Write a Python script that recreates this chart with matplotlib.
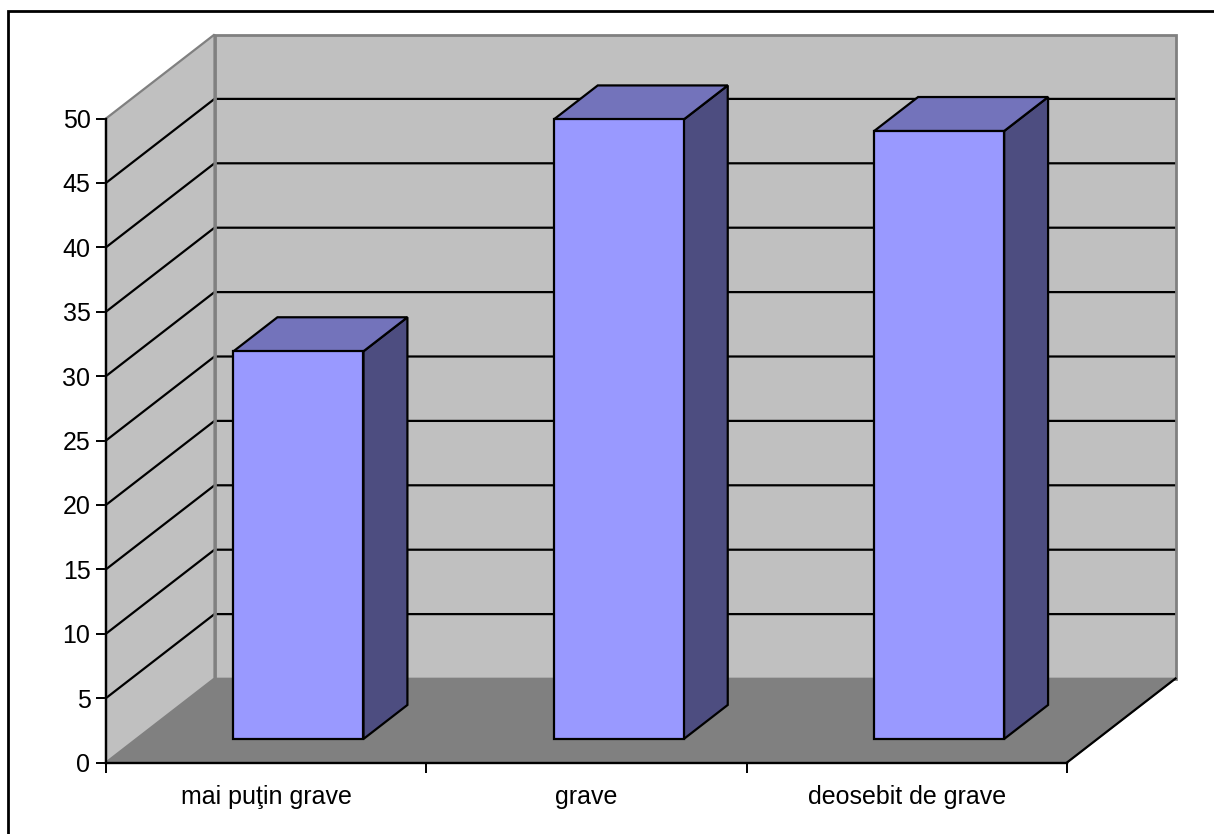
import matplotlib
matplotlib.use("Agg")
import matplotlib.pyplot as plt
from matplotlib.patches import Polygon, Rectangle

plt.rcParams["font.family"] = ["Liberation Sans", "DejaVu Sans"]

categories = ["mai puţin grave", "grave", "deosebit de grave"]
values = [30.1, 48.1, 47.2]
y_ticks = [0, 5, 10, 15, 20, 25, 30, 35, 40, 45, 50]

W, H = 1214, 834
fig = plt.figure(figsize=(W / 100, H / 100), dpi=100, facecolor="white")

# outer chart border, runs off the right and bottom edges
fig.add_artist(Rectangle((8 / W, -0.1), 1.2, (H - 11) / H + 0.1, transform=fig.transFigure,
                         fill=False, edgecolor="black", linewidth=2.0))

# axes sit on the front plane of the 3D box
ax = fig.add_axes([106 / W, (H - 762.5) / H, 961 / W, 644 / H])
ax.set_xlim(0, 3)
ax.set_ylim(0, 50)
ax.patch.set_visible(False)

# depth of the box in data units
depth_x = 108.5 / 961 * 3
depth_y = 84 / 644 * 50


def proj(x, y, d):
    return (x + d * depth_x, y + d * depth_y)


def face(points, color, edge, lw=1.6, z=1):
    ax.add_patch(Polygon([proj(*p) for p in points], closed=True, facecolor=color,
                         edgecolor=edge, linewidth=lw, zorder=z, clip_on=False,
                         joinstyle="miter"))


wall = "#C0C0C0"
floor = "#808080"
back = [(0, 0, 1), (3, 0, 1), (3, 50, 1), (0, 50, 1)]
side_wall = [(0, 0, 0), (0, 50, 0), (0, 50, 1), (0, 0, 1)]

# back wall, floor and side wall
face(back, wall, "none", 0, 1)
face([(0, 0, 0), (3, 0, 0), (3, 0, 1), (0, 0, 1)], floor, "#808080", 1.2, 2)
face(side_wall, wall, "none", 0, 2)

# gridlines wrap from the front edge across the side and back walls
for t in y_ticks[1:-1]:
    xs, ys = zip(proj(0, t, 0), proj(0, t, 1), proj(3, t, 1))
    ax.plot(xs, ys, color="black", lw=1.6, zorder=3, clip_on=False, solid_joinstyle="miter")

# gray wall outlines go over the gridlines
face(back, "none", "#808080", 2.0, 4)
face(side_wall, "none", "#808080", 1.6, 4)

# right edge of the floor
xs, ys = zip(proj(3, 0, 0), proj(3, 0, 1))
ax.plot(xs, ys, color="black", lw=1.6, zorder=4, clip_on=False)

# bars as front, top and side faces
bar_w = 130 / 961 * 3
d0, d1 = 0.28, 0.685
for i, v in enumerate(values):
    x0 = i + 0.5 + 0.006 - bar_w / 2
    x1 = x0 + bar_w
    face([(x1, 0, d0), (x1, 0, d1), (x1, v, d1), (x1, v, d0)], "#4D4D80", "black", 1.6, 5)
    face([(x0, v, d0), (x1, v, d0), (x1, v, d1), (x0, v, d1)], "#7373BB", "black", 1.6, 5)
    face([(x0, 0, d0), (x1, 0, d0), (x1, v, d0), (x0, v, d0)], "#9999FF", "black", 1.6, 6)

for side in ["top", "right"]:
    ax.spines[side].set_visible(False)
for side in ["left", "bottom"]:
    ax.spines[side].set_linewidth(1.7)
    ax.spines[side].set_zorder(7)

ax.set_yticks(y_ticks)
ax.tick_params(axis="y", length=7.2, width=1.4, labelsize=18, pad=4)
ax.set_xticks([0, 1, 2, 3])
ax.set_xticklabels([])
ax.set_xticks([0.5, 1.5, 2.5], labels=categories, minor=True)
ax.tick_params(axis="x", which="major", length=7.2, width=1.4)
ax.tick_params(axis="x", which="minor", length=0, labelsize=18, pad=16.5)

fig.savefig("out.png", dpi=100)
plt.close(fig)
